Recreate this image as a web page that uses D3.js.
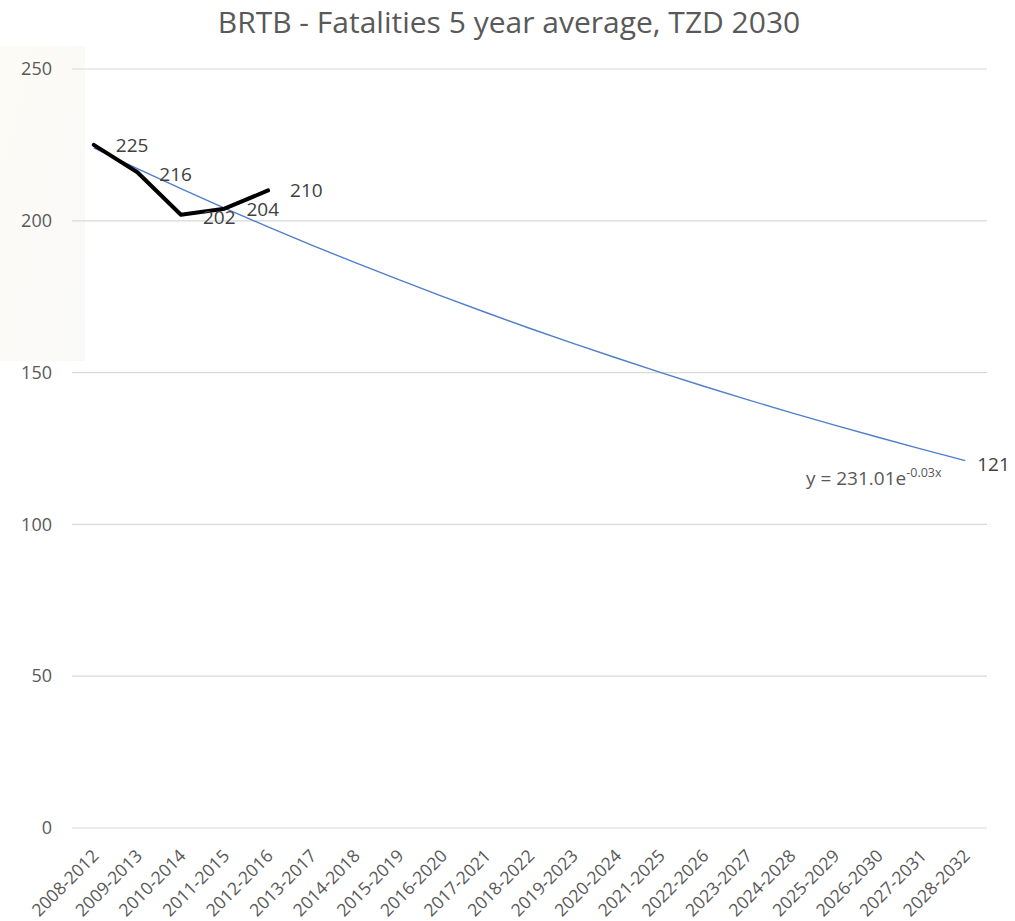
<!DOCTYPE html>
<html><head><meta charset="utf-8">
<script src="https://cdn.jsdelivr.net/npm/d3@7"></script>
<style>body{margin:0;background:#fff;} text{font-family:"Open Sans",sans-serif;}</style>
</head><body>
<svg id="c" width="1015" height="921"></svg>
<script>
const categories = ["2008-2012","2009-2013","2010-2014","2011-2015","2012-2016","2013-2017","2014-2018","2015-2019","2016-2020","2017-2021","2018-2022","2019-2023","2020-2024","2021-2025","2022-2026","2023-2027","2024-2028","2025-2029","2026-2030","2027-2031","2028-2032"];
const fatalities = [225, 216, 202, 204, 210];
const trendValues = [224.0,217.2,210.6,204.2,198.0,192.0,186.2,180.6,175.1,169.8,164.6,159.6,154.8,150.1,145.5,141.1,136.8,132.7,128.7,124.8,121.0];
const yTicks = [0,50,100,150,200,250];
const titleText = "BRTB - Fatalities 5 year average, TZD 2030";
const trendLabel = "121";

const svg = d3.select("#c");
const mLeft = 72, mRight = 987, mTop = 69, mBottom = 828;
const font = "'Open Sans',sans-serif";

// faint background patch
const defs = svg.append("defs");
const g1 = defs.append("linearGradient").attr("id","bg").attr("x1",0).attr("y1",0).attr("x2",1).attr("y2",1);
g1.append("stop").attr("offset","0").attr("stop-color","#fdfbf5");
g1.append("stop").attr("offset","1").attr("stop-color","#f9f9f9");
svg.append("rect").attr("x",0).attr("y",46).attr("width",85).attr("height",315).attr("fill","url(#bg)");

const x = d3.scaleBand().domain(categories).range([mLeft,mRight]);
const y = d3.scaleLinear().domain([0,250]).range([mBottom,mTop]);
const cx = d => x(d) + x.bandwidth()/2;

// gridlines
svg.append("g").selectAll("line").data(yTicks).join("line")
  .attr("x1",mLeft).attr("x2",mRight).attr("y1",d=>y(d)).attr("y2",d=>y(d))
  .attr("stroke","#d9d9d9").attr("stroke-width",1.2);

// y axis labels
const ya = svg.append("g").attr("transform",`translate(${mLeft-20},0)`)
  .call(d3.axisLeft(y).tickValues(yTicks).tickSize(0).tickPadding(0));
ya.select(".domain").remove();
ya.selectAll("text").attr("font-size",18).attr("fill","#595959").style("font-family",font).attr("dy","0.32em");

// x axis labels
const xa = svg.append("g").attr("transform",`translate(0,${mBottom})`)
  .call(d3.axisBottom(x).tickSize(0).tickPadding(0));
xa.select(".domain").remove();
xa.selectAll("text").attr("font-size",17.5).attr("fill","#595959").style("font-family",font)
  .attr("text-anchor","end").attr("dy",0)
  .attr("transform",`translate(${x.bandwidth()/2-21.8+6},29) rotate(-45)`)
  .attr("x",0).attr("y",0);

// trend line
svg.append("path").datum(trendValues)
  .attr("d", d3.line().x((d,i)=>cx(categories[i])).y(d=>y(d)))
  .attr("fill","none").attr("stroke","#4f7fcc").attr("stroke-width",1.4);

// data line
svg.append("path").datum(fatalities)
  .attr("d", d3.line().x((d,i)=>cx(categories[i])).y(d=>y(d)))
  .attr("fill","none").attr("stroke","#000").attr("stroke-width",4).attr("stroke-linejoin","round").attr("stroke-linecap","round");

// data labels
const labelDy = [7, 8.5, 9, 7, 7];
svg.append("g").selectAll("text").data(fatalities).join("text")
  .attr("x",(d,i)=>cx(categories[i])+22).attr("y",(d,i)=>y(d)+labelDy[i])
  .attr("font-size",19).attr("fill","#404040").style("font-family",font)
  .text(d=>d);

// trend end label
const lastI = trendValues.length-1;
svg.append("text").attr("x",cx(categories[lastI])+12).attr("y",y(trendValues[lastI])+10)
  .attr("font-size",19).attr("fill","#404040").style("font-family",font).text(trendLabel);

// equation
const eq = svg.append("text").attr("x",806).attr("y",485).attr("font-size",19).attr("fill","#595959").style("font-family",font);
eq.append("tspan").text("y = 231.01e");
eq.append("tspan").attr("font-size",12.5).attr("dy",-8).text("-0.03x");

// title
svg.append("text").attr("x",509).attr("y",33).attr("text-anchor","middle")
  .attr("font-size",30).attr("fill","#595959").style("font-family",font).text(titleText);
</script>
</body></html>
